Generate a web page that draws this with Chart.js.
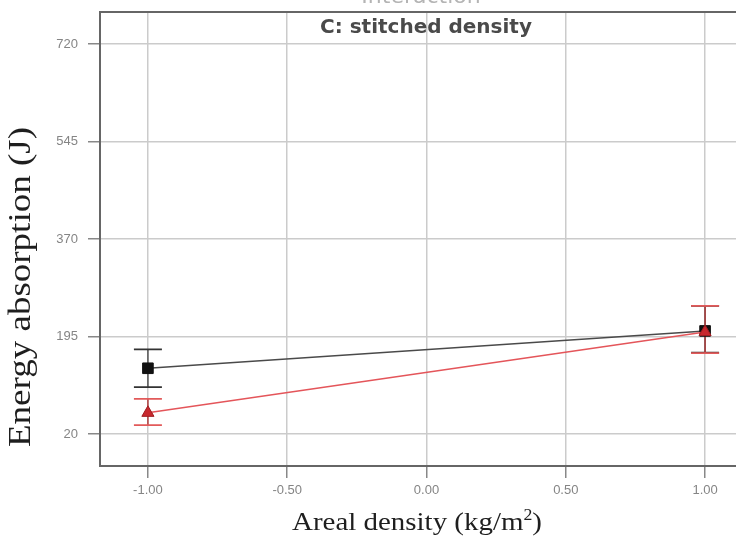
<!DOCTYPE html>
<html><head><meta charset="utf-8">
<script src="https://cdn.jsdelivr.net/npm/chart.js@4.4.0/dist/chart.umd.min.js"></script>
<style>html,body{margin:0;padding:0;background:#fff}#wrap{width:736px;height:543px}</style>
</head><body><div id="wrap"><canvas id="c" width="736" height="543"></canvas></div>
<script>
// ---- data ----
const xLevels = [-1, 1];
const xTickValues = [-1, -0.5, 0, 0.5, 1];
const yTickValues = [20, 195, 370, 545, 720];
const lowStitch = [138, 205];          // black squares
const lowStitchErrLow = [104, 166];
const lowStitchErrHigh = [172, 250];
const highStitch = [58, 203];          // red triangles
const highStitchErrLow = [36, 165];
const highStitchErrHigh = [83, 250];
const plotTitle = 'Interaction';
const factorLabel = 'C: stitched density';
const xTitleMain = 'Areal density (kg/m';
const xTitleSup = '2';
const xTitleEnd = ')';
const yTitle = 'Energy absorption (J)';

const mk = (ys) => xLevels.map((x, i) => ({x: x, y: ys[i]}));

const errorBars = [
  {low: highStitchErrLow, high: highStitchErrHigh, color: '#e25a5a', stem: '#b04040'},
  {low: lowStitchErrLow, high: lowStitchErrHigh, color: '#333333', stem: '#555555'}
];

const decor = {
  id: 'decor',
  beforeDatasetsDraw(chart) {
    const ctx = chart.ctx, xs = chart.scales.x, ys = chart.scales.y;
    ctx.save();
    [errorBars[1], errorBars[0]].forEach(eb => {
      xLevels.forEach((xv, i) => {
        const px = xs.getPixelForValue(xv);
        const pl = ys.getPixelForValue(eb.low[i]);
        const ph = ys.getPixelForValue(eb.high[i]);
        ctx.strokeStyle = eb.stem; ctx.lineWidth = 1.5;
        ctx.beginPath(); ctx.moveTo(px, pl); ctx.lineTo(px, ph); ctx.stroke();
        ctx.strokeStyle = eb.color; ctx.lineWidth = 1.8;
        ctx.beginPath();
        ctx.moveTo(px - 14, pl); ctx.lineTo(px + 14, pl);
        ctx.moveTo(px - 14, ph); ctx.lineTo(px + 14, ph);
        ctx.stroke();
      });
    });
    ctx.restore();
  },
  afterDraw(chart) {
    const ctx = chart.ctx, a = chart.chartArea;
    ctx.save();
    ctx.strokeStyle = '#666'; ctx.lineWidth = 2;
    ctx.beginPath(); ctx.moveTo(a.left, a.top); ctx.lineTo(a.right, a.top); ctx.stroke();
    // clipped plot title
    ctx.fillStyle = '#b4b4b4';
    ctx.font = '22px "DejaVu Sans"';
    ctx.textAlign = 'center'; ctx.textBaseline = 'alphabetic';
    ctx.fillText(plotTitle, 421, 3);
    // factor label
    ctx.fillStyle = '#4a4a4a';
    ctx.font = 'bold 20px "DejaVu Sans"';
    ctx.fillText(factorLabel, 426, 33);
    // y title
    ctx.fillStyle = '#1e1e1e';
    ctx.font = '31px "Liberation Serif"';
    const wy = ctx.measureText(yTitle).width;
    ctx.save();
    ctx.translate(22, 287);
    ctx.rotate(-Math.PI / 2);
    ctx.scale(320 / wy, 1);
    ctx.textAlign = 'center'; ctx.textBaseline = 'middle';
    ctx.fillText(yTitle, 0, 0);
    ctx.restore();
    // x title
    ctx.font = '26px "Liberation Serif"';
    const w1 = ctx.measureText(xTitleMain).width;
    const w3 = ctx.measureText(xTitleEnd).width;
    ctx.font = '16px "Liberation Serif"';
    const w2 = ctx.measureText(xTitleSup).width;
    const tot = w1 + w2 + w3;
    ctx.save();
    ctx.translate(417, 530);
    ctx.scale(250 / tot, 1);
    ctx.textAlign = 'left'; ctx.textBaseline = 'alphabetic';
    let cx = -tot / 2;
    ctx.font = '26px "Liberation Serif"';
    ctx.fillText(xTitleMain, cx, 0); cx += w1;
    ctx.font = '16px "Liberation Serif"';
    ctx.fillText(xTitleSup, cx, -10); cx += w2;
    ctx.font = '26px "Liberation Serif"';
    ctx.fillText(xTitleEnd, cx, 0);
    ctx.restore();
    ctx.restore();
  }
};

new Chart(document.getElementById('c'), {
  type: 'line',
  data: {
    datasets: [
      {
        label: 'C+', data: mk(highStitch),
        borderColor: '#e4555a', borderWidth: 1.5,
        pointStyle: 'triangle', pointRadius: 7,
        pointBackgroundColor: '#c8282e', pointBorderColor: '#a01e22', pointBorderWidth: 1
      },
      {
        label: 'C-', data: mk(lowStitch),
        borderColor: '#4a4a4a', borderWidth: 1.5,
        pointStyle: 'rect', pointRadius: 7.5,
        pointBackgroundColor: '#111', pointBorderColor: '#111', pointBorderWidth: 1
      }
    ]
  },
  options: {
    responsive: false, animation: false, devicePixelRatio: 1,
    layout: {autoPadding: false, padding: {top: 12, right: 0, left: 0, bottom: 0}},
    plugins: {legend: {display: false}, tooltip: {enabled: false}},
    scales: {
      x: {
        type: 'linear', min: -1.172, max: 1.111,
        afterBuildTicks: s => { s.ticks = xTickValues.map(v => ({value: v})); },
        afterFit: s => { s.height = 77; s.paddingLeft = 0; s.paddingRight = 0; },
        ticks: {color: '#858585', font: {size: 13, family: 'Liberation Sans'}, padding: 5,
          callback: v => Number(v).toFixed(2)},
        grid: {color: '#cbcbcb', lineWidth: 1.5, tickColor: '#888', tickLength: 12},
        border: {color: '#666', width: 2}
      },
      y: {
        type: 'linear', min: -37.4, max: 777.4,
        afterBuildTicks: s => { s.ticks = yTickValues.map(v => ({value: v})); },
        afterFit: s => { s.width = 100; s.paddingTop = 0; s.paddingBottom = 0; },
        ticks: {color: '#858585', font: {size: 13, family: 'Liberation Sans'}, padding: 10,
          callback: v => String(v)},
        grid: {color: '#cbcbcb', lineWidth: 1.5, tickColor: '#888', tickLength: 12},
        border: {color: '#666', width: 2}
      }
    }
  },
  plugins: [decor]
});
</script>
</body></html>
